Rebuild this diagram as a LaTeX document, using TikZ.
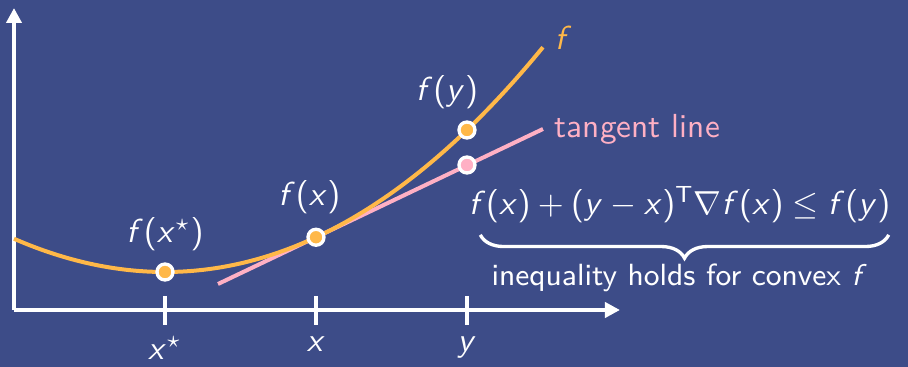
\documentclass[tikz,border=0pt]{standalone}
\usepackage{amsmath}
\usepackage{amssymb}
\usepackage{xcolor}
\usetikzlibrary{arrows.meta,positioning,decorations.pathreplacing}
\definecolor{slateblue}{RGB}{61,76,136}
\definecolor{curveorange}{RGB}{255,184,72}
\definecolor{tanpink}{RGB}{255,176,196}
\DeclareSymbolFont{sfletters}{OT1}{cmss}{m}{sl}
\SetSymbolFont{operators}{normal}{OT1}{cmss}{m}{n}
\DeclareMathSymbol{f}{\mathalpha}{sfletters}{`f}
\DeclareMathSymbol{x}{\mathalpha}{sfletters}{`x}
\DeclareMathSymbol{y}{\mathalpha}{sfletters}{`y}

\begin{document}
\begin{tikzpicture}[
    x=0.3pt, y=-0.3pt,
    axis/.style={draw=white, line width=1.2pt, -{Triangle[length=4.5pt,width=4.5pt]}},
    tickmark/.style={draw=white, line width=1.2pt},
    dotnode/.style={circle, draw=white, line width=1pt, inner sep=0pt, minimum size=4.8pt},
    lbl/.style={text=white, font=\sffamily},
    brace/.style={draw=white, line width=1pt, decorate,
                  decoration={brace, mirror, amplitude=7pt}}
]
\fill[slateblue] (0,0) rectangle (908,367);
\useasboundingbox (0,0) rectangle (908,367);

\coordinate (o) at (14,310);
\coordinate (xend) at (620,310);
\coordinate (yend) at (14,8);
\draw[axis] (o) -- (xend);
\draw[axis] (o) -- (yend);

\foreach \u/\name in {0/xs, 1/x, 2/y} {
  \coordinate (tick\name top) at ({165+151*\u},296);
  \coordinate (tick\name bot) at ({165+151*\u},325);
  \draw[tickmark] (tick\name top) -- (tick\name bot);
}
\node[lbl, below=0pt of tickxsbot] (lxs) {$x^\star$};
\node[lbl, below=0pt of tickxbot] (lx) {$x$};
\node[lbl, below=0pt of tickybot] (ly) {$y$};

\coordinate (tstart) at (218,284);
\coordinate (tend) at (543,129);
\coordinate (cend) at (543,48);
\draw[tanpink, line width=1.2pt] (tstart) -- (tend);
\draw[curveorange, line width=1.2pt, domain=-1:2.503, samples=60, smooth]
  plot ({165+151*\x},{272-34*\x*\x-0.75*\x*\x*\x});

\node[dotnode, fill=curveorange] (xmin) at (165,272) {};
\node[dotnode, fill=curveorange] (xdot) at (316,237.25) {};
\node[dotnode, fill=curveorange] (ydot) at (467,130) {};
\node[dotnode, fill=tanpink] (tdot) at (467,165) {};

\node[lbl, above=0pt of xmin] (fxs) {$f(x^\star)$};
\node[lbl, above=0.5pt of xdot, xshift=-2pt] (fx) {$f(x)$};
\node[lbl, above=0pt of ydot, xshift=-6pt] (fy) {$f(y)$};
\node[right=0pt of cend, yshift=3pt, text=curveorange] (flbl) {$f$};
\node[right=0pt of tend, text=tanpink, font=\sffamily] (tlbl) {tangent line};

\node[lbl, anchor=north west, xshift=-3pt] (ineq) at (tdot.south)
  {$f(x)+(y-x)^{\mathsf{T}}\nabla f(x)\leq f(y)$};
\draw[brace] ([xshift=7pt]ineq.south west) -- ([xshift=-4pt]ineq.south east)
  node[lbl, midway, below=5pt, xshift=-1.5pt, font=\sffamily\fontsize{9.2}{11}\selectfont]
  (holds) {inequality holds for convex $f$};
\end{tikzpicture}
\end{document}
